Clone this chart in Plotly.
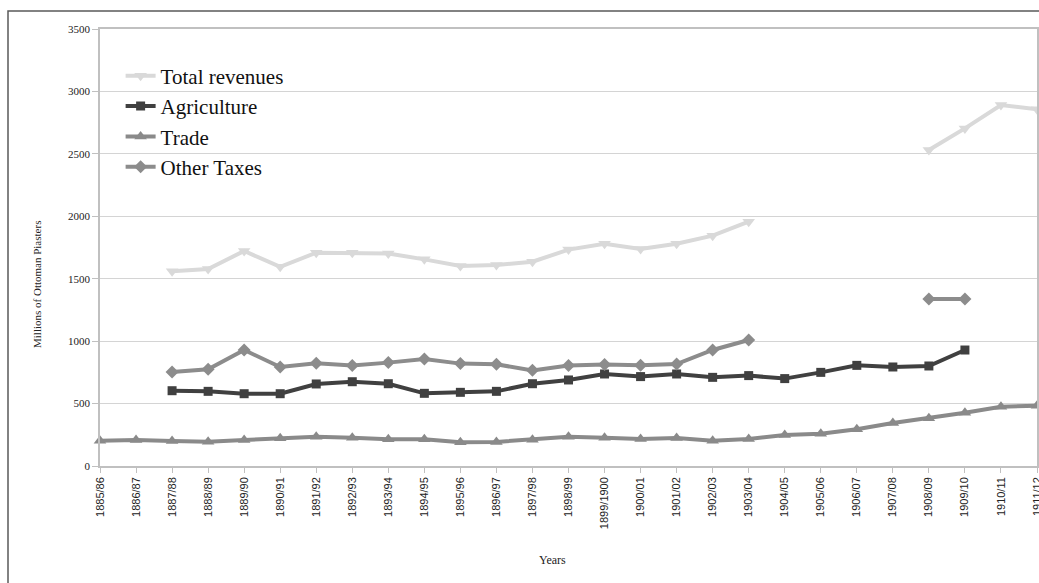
import plotly.graph_objects as go

years = ["1885/86", "1886/87", "1887/88", "1888/89", "1889/90", "1890/91", "1891/92",
         "1892/93", "1893/94", "1894/95", "1895/96", "1896/97", "1897/98", "1898/99",
         "1899/1900", "1900/01", "1901/02", "1902/03", "1903/04", "1904/05", "1905/06",
         "1906/07", "1907/08", "1908/09", "1909/10", "1910/11", "1911/12"]

total_revenues = [None, None, 1560, 1578, 1722, 1595, 1708, 1708, 1702, 1655, 1602, 1610,
                  1636, 1733, 1780, 1738, 1780, 1845, 1957, None, None, None, None,
                  2531, 2704, 2891, 2857]
agriculture = [None, None, 603, 598, 579, 579, 657, 675, 659, 582, 590, 598, 659, 689,
               737, 716, 737, 710, 724, 700, 750, 806, 793, 801, 929, None, None]
trade = [203, 208, 200, 195, 208, 222, 235, 227, 214, 214, 190, 193, 211, 235, 227, 216,
         224, 203, 216, 248, 259, 294, 344, 382, 427, 475, 483]
other_taxes = [None, None, 753, 774, 929, 793, 822, 804, 828, 857, 820, 814, 766, 804,
               812, 806, 817, 929, 1009, None, None, None, None, 1337, 1337, None, None]

y_ticks = [0, 500, 1000, 1500, 2000, 2500, 3000, 3500]

xs = list(range(len(years)))

serif = "Liberation Serif"
sans = "Liberation Sans"

fig = go.Figure()

series = [
    ("Total revenues", total_revenues, "#d9d9d9", "triangle-down", 11),
    ("Agriculture", agriculture, "#404040", "square", 9),
    ("Trade", trade, "#8a8a8a", "triangle-up", 11),
    ("Other Taxes", other_taxes, "#8c8c8c", "diamond", 10),
]
for name, vals, color, sym, size in series:
    fig.add_trace(go.Scatter(
        x=xs, y=vals, name=name, mode="lines+markers",
        line=dict(color=color, width=4),
        marker=dict(symbol=sym, size=size, color=color),
        connectgaps=False,
        cliponaxis=False,
    ))

fig.update_layout(
    width=1039, height=583,
    margin=dict(l=100, r=2, t=29, b=117),
    paper_bgcolor="white", plot_bgcolor="white",
    showlegend=True,
    legend=dict(
        x=0.022, y=0.939, xanchor="left", yanchor="top",
        font=dict(family=serif, size=21, color="#111111"),
        bgcolor="rgba(0,0,0,0)", borderwidth=0,
        itemwidth=30,
    ),
    xaxis=dict(
        range=[0, len(years) - 1],
        tickmode="array", tickvals=xs, ticktext=years,
        tickangle=-90,
        ticklabeloverflow="allow",
        automargin=False,
        tickfont=dict(family=sans, size=11, color="#222222"),
        ticks="outside", ticklen=5, tickcolor="#c0c0c0", tickwidth=1,
        showline=True, linecolor="#c0c0c0", linewidth=1.5, mirror=True,
        showgrid=False, zeroline=False,
    ),
    yaxis=dict(
        range=[0, 3500],
        tickmode="array", tickvals=y_ticks,
        automargin=False,
        tickfont=dict(family=serif, size=11, color="#222222"),
        ticks="outside", ticklen=6, tickcolor="#c0c0c0", tickwidth=1,
        showline=True, linecolor="#c0c0c0", linewidth=1.5, mirror=True,
        showgrid=True, gridcolor="#d4d4d4", gridwidth=1,
        zeroline=False,
    ),
    annotations=[
        dict(text="Years", xref="paper", yref="paper", x=(552 - 100) / 937,
             y=(466 - 560) / 437, xanchor="center", yanchor="middle",
             showarrow=False, font=dict(family=serif, size=12, color="#222222")),
        dict(text="Millions of Ottoman Piasters", xref="paper", yref="paper",
             x=(37 - 100) / 937, y=(466 - 285) / 437, textangle=-90,
             xanchor="center", yanchor="middle", showarrow=False,
             font=dict(family=serif, size=11, color="#222222")),
    ],
    shapes=[
        dict(type="rect", xref="paper", yref="paper",
             x0=(8 - 100) / 937, y0=(466 - 11) / 437, x1=1.2, y1=-0.6,
             line=dict(color="#5a5a5a", width=1.5), layer="below"),
    ],
)

fig.write_html("out.html")
